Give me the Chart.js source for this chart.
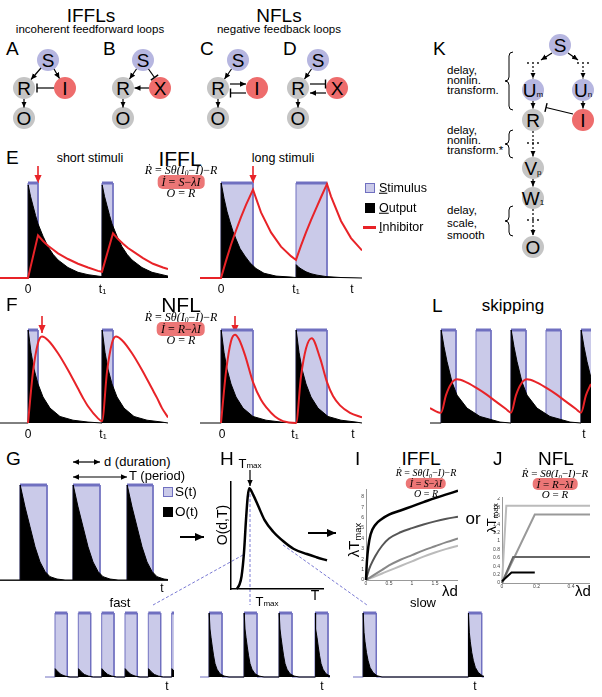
<!DOCTYPE html>
<html>
<head>
<meta charset="utf-8">
<title>IFFL / NFL responses</title>
<script src="https://cdn.jsdelivr.net/npm/chart.js"></script>
<style>
  html, body { margin: 0; padding: 0; background: #fff; }
  body { font-family: "Liberation Sans", Arial, Helvetica, sans-serif; color: #000; }
  #fig { position: relative; width: 602px; height: 697px; overflow: hidden; background: #fff; }
  #fig canvas { position: absolute; }
  #ov { position: absolute; left: 0; top: 0; }
  .t { position: absolute; white-space: nowrap; line-height: 1; }
  .sm { font-size: 0.62em; }
  sub { font-size: 0.62em; vertical-align: -0.25em; line-height: 0; }
  .eq { position: absolute; font-family: "Liberation Serif", "DejaVu Serif", serif; font-style: italic; text-align: center; white-space: nowrap; transform: translateX(-50%); }
  .eq .up { font-style: normal; }
  .pill { background: rgb(236,118,118); border-radius: 5px; padding: 0 4px; }
  .blk { position: absolute; font-size: 11.5px; white-space: nowrap; }
  .box { position: absolute; width: 10px; height: 10px; box-sizing: border-box; }
</style>
</head>
<body>
<div id="fig">
  <svg id="ov" width="602" height="697">
    <defs>
      <marker id="ah" markerUnits="userSpaceOnUse" markerWidth="6" markerHeight="6" viewBox="0 0 10 10" refX="10" refY="5" orient="auto-start-reverse"><path d="M0,0.5 L10,5 L0,9.5 z" fill="#000"/></marker>
      <marker id="ahr" markerUnits="userSpaceOnUse" markerWidth="8" markerHeight="8" viewBox="0 0 10 10" refX="10" refY="5" orient="auto"><path d="M0,0.5 L10,5 L0,9.5 z" fill="rgb(232,35,40)"/></marker>
      <marker id="ahb" markerUnits="userSpaceOnUse" markerWidth="9" markerHeight="9" viewBox="0 0 10 10" refX="10" refY="5" orient="auto"><path d="M0,0.5 L10,5 L0,9.5 z" fill="#000"/></marker>
    </defs>
  </svg>
</div>
<script>
// ---- data (time in panel units, values relative to stimulus height) ----

// E, IFFL short stimuli
const eShortStimT = [-2.8, 0, 0, 1.0, 1.0, 7.4, 7.4, 8.5, 8.5, 14];
const eShortStimS = [0, 0, 1, 1, 0, 0, 1, 1, 0, 0];
const eShortOutT = [-2.8, 0, 0.02, 0.25, 0.5, 0.75, 1, 1.5, 2, 2.5, 3, 4, 5, 6, 7, 7.4, 7.42, 7.65, 7.9, 8.15, 8.4, 8.9, 9.4, 9.9, 10.4, 11.4, 12.4, 13.4, 14];
const eShortOutO = [0, 0, 0.98, 0.86, 0.76, 0.66, 0.57, 0.44, 0.33, 0.25, 0.19, 0.11, 0.06, 0.035, 0.02, 0.015, 0.98, 0.86, 0.76, 0.66, 0.57, 0.44, 0.33, 0.25, 0.19, 0.11, 0.06, 0.035, 0.02];
const eShortInhT = [-2.8, 0, 1.0, 1.5, 2, 2.5, 3, 4, 5, 6, 7, 7.4, 8.5, 9, 9.5, 10, 10.5, 11.5, 12.5, 13.5, 14];
const eShortInhI = [0, 0, 0.45, 0.39, 0.34, 0.3, 0.26, 0.2, 0.15, 0.11, 0.075, 0.065, 0.47, 0.41, 0.36, 0.315, 0.28, 0.21, 0.15, 0.11, 0.095];
const eShortTickT = [0, 7.45];
const eShortTickL = ['0', 't₁'];

// E, IFFL long stimuli
const eLongStimT = [-2.1, 0, 0, 3.2, 3.2, 7.5, 7.5, 10.6, 10.6, 14.1];
const eLongStimS = [0, 0, 1, 1, 0, 0, 1, 1, 0, 0];
const eLongOutT = [-2.1, 0, 0.02, 0.3, 0.6, 0.9, 1.2, 1.5, 1.9, 2.4, 2.9, 3.5, 4.3, 5.5, 7, 7.5, 7.52, 7.8, 8.1, 8.5, 9, 9.6, 10.5, 12, 14.1];
const eLongOutO = [0, 0, 1.0, 0.84, 0.7, 0.59, 0.49, 0.41, 0.31, 0.23, 0.16, 0.1, 0.05, 0.02, 0.01, 0.005, 0.14, 0.11, 0.09, 0.065, 0.045, 0.03, 0.015, 0.005, 0];
const eLongInhT = [-2.1, 0, 0.5, 1, 1.5, 2, 2.5, 3.2, 4, 5, 6, 7, 7.5, 8, 8.5, 9, 9.5, 10, 10.6, 11, 12, 13, 14.1];
const eLongInhI = [0, 0, 0.18, 0.35, 0.5, 0.64, 0.77, 0.93, 0.69, 0.48, 0.33, 0.23, 0.19, 0.34, 0.48, 0.61, 0.73, 0.85, 0.99, 0.86, 0.6, 0.42, 0.29];
const eLongTickT = [0, 7.5, 13.1];
const eLongTickL = ['0', 't₁', 't'];

// F, NFL short stimuli
const fShortStimT = [-2.8, 0, 0, 1.0, 1.0, 7.4, 7.4, 8.5, 8.5, 14];
const fShortStimS = [0, 0, 1, 1, 0, 0, 1, 1, 0, 0];
const fShortOutT = [-2.8, 0, 0.02, 0.3, 0.6, 1.0, 1.5, 2.2, 3.2, 4.5, 6, 7.4, 7.42, 7.7, 8.0, 8.4, 8.9, 9.6, 10.6, 11.9, 13.4, 14];
const fShortOutO = [0, 0, 1.0, 0.76, 0.58, 0.42, 0.28, 0.16, 0.07, 0.03, 0.01, 0, 1.0, 0.76, 0.58, 0.42, 0.28, 0.16, 0.07, 0.03, 0.01, 0];
const fShortInhT = [0, 0.5, 1.0, 1.4, 2, 3, 4, 5, 5.5, 6, 7, 7.4, 7.9, 8.4, 8.8, 9.4, 10.4, 11.4, 12.4, 12.9, 13.4, 14];
const fShortInhI = [0, 0.55, 0.86, 0.93, 0.89, 0.75, 0.57, 0.37, 0.27, 0.18, 0.05, 0.02, 0.55, 0.86, 0.93, 0.89, 0.75, 0.57, 0.37, 0.27, 0.16, 0.06];
const fShortTickT = [0, 7.5];
const fShortTickL = ['0', 't₁'];

// F, NFL long stimuli
const fLongStimT = [-2.1, 0, 0, 3.2, 3.2, 7.5, 7.5, 10.6, 10.6, 14.1];
const fLongStimS = [0, 0, 1, 1, 0, 0, 1, 1, 0, 0];
const fLongOutT = [-2.1, 0, 0.02, 0.3, 0.6, 1.0, 1.5, 2.2, 3.2, 4.5, 6, 7.5, 7.52, 7.8, 8.1, 8.5, 9, 9.7, 10.7, 12, 13.5, 14.1];
const fLongOutO = [0, 0, 1.0, 0.76, 0.58, 0.42, 0.28, 0.16, 0.07, 0.03, 0.01, 0, 1.0, 0.76, 0.58, 0.42, 0.28, 0.16, 0.07, 0.03, 0.01, 0];
const fLongInhT = [0, 0.5, 1.0, 1.4, 1.8, 2.4, 3.2, 4, 4.6, 5.4, 6.2, 7.5, 8.0, 8.5, 9.07, 9.9, 10.6, 11.2, 11.9, 12.9, 14.1];
const fLongInhI = [0, 0.55, 0.88, 0.95, 0.9, 0.73, 0.44, 0.25, 0.16, 0.07, 0.02, 0, 0.5, 0.8, 0.91, 0.7, 0.44, 0.29, 0.19, 0.11, 0.06];
const fLongTickT = [0.1, 7.4, 13.2];
const fLongTickL = ['0', 't₁', 't'];

// L, skipping
const lStimT = [-1.1, 0, 0, 1.5, 1.5, 3.5, 3.5, 5.0, 5.0, 7.0, 7.0, 8.5, 8.5, 10.5, 10.5, 12.0, 12.0, 14.0, 14.0, 15.4];
const lStimS = [0, 0, 1, 1, 0, 0, 1, 1, 0, 0, 1, 1, 0, 0, 1, 1, 0, 0, 1, 1];
const lOutT = [-1.1, 0, 0.02, 0.3, 0.6, 1.1, 1.6, 2.6, 3.9, 5.9, 7.0, 7.02, 7.3, 7.6, 8.1, 8.6, 9.6, 10.9, 12.9, 14.0, 14.02, 14.3, 14.6, 15.1];
const lOutO = [0, 0, 1.0, 0.82, 0.66, 0.44, 0.3, 0.16, 0.07, 0.01, 0, 1.0, 0.82, 0.66, 0.44, 0.3, 0.16, 0.07, 0.01, 0, 1.0, 0.82, 0.66, 0.44];
const lInhT = [-1.1, 0, 0.5, 1.0, 1.6, 2.5, 3.5, 4.5, 5.5, 6.5, 7.0, 7.5, 8.0, 8.6, 9.5, 10.5, 11.5, 12.5, 13.5, 14.0, 14.5, 15.0];
const lInhI = [0.16, 0.11, 0.3, 0.42, 0.47, 0.44, 0.38, 0.31, 0.23, 0.15, 0.11, 0.3, 0.42, 0.47, 0.44, 0.38, 0.31, 0.23, 0.15, 0.11, 0.3, 0.42];
const lTickT = [14.3];
const lTickL = ['t'];

// G, periodic stimulus S(t) and output O(t)
const gStimT = [-2, 0, 0, 2.7, 2.7, 5.3, 5.3, 8.0, 8.0, 10.7, 10.7, 13.3, 13.3, 14.8];
const gStimS = [0, 0, 1, 1, 0, 0, 1, 1, 0, 0, 1, 1, 0, 0];
const gOutT = [-2, 0, 0.02, 0.5, 1.0, 1.5, 2.0, 2.5, 3.0, 3.7, 4.5, 5.3, 5.32, 5.8, 6.3, 6.8, 7.3, 7.8, 8.3, 9.0, 9.8, 10.7, 10.72, 11.2, 11.7, 12.2, 12.7, 13.2, 13.7, 14.4, 14.8];
const gOutO = [0, 0, 1, 0.77, 0.56, 0.35, 0.19, 0.09, 0.035, 0.01, 0, 0, 1, 0.77, 0.56, 0.35, 0.19, 0.09, 0.035, 0.01, 0, 0, 1, 0.77, 0.56, 0.35, 0.19, 0.09, 0.035, 0.01, 0.005];
const gTickT = [14.2];
const gTickL = ['t'];

// H, O(d,T) against period T
const hT = [0.6, 0.87, 1.1, 1.35, 1.56, 1.74, 1.9, 2.3, 2.85, 3.5, 4.4, 5.45, 6.5, 7.9, 8.9, 10];
const hO = [0, 0.04, 0.12, 0.34, 0.65, 0.87, 0.95, 0.89, 0.78, 0.65, 0.54, 0.45, 0.38, 0.33, 0.30, 0.27];

// I, IFFL: lambda*Tmax against lambda*d
const iLd = [0, 0.02, 0.05, 0.1, 0.2, 0.35, 0.5, 0.75, 1.0, 1.25, 1.5, 1.75, 2.0];
const iTmaxA = [0, 1.8, 3.2, 4.4, 5.3, 5.9, 6.3, 6.7, 7.1, 7.5, 7.9, 8.25, 8.6];
const iTmaxB = [0, 0.35, 0.8, 1.4, 2.3, 3.3, 4.0, 4.6, 5.0, 5.35, 5.65, 5.9, 6.1];
const iTmaxC = [0, 0.06, 0.14, 0.28, 0.56, 0.98, 1.4, 1.95, 2.4, 2.85, 3.25, 3.65, 4.0];
const iTmaxD = [0, 0.04, 0.09, 0.18, 0.36, 0.63, 0.9, 1.35, 1.8, 2.25, 2.65, 3.0, 3.3];

// J, NFL: lambda*Tmax against lambda*d
const jLdA = [0, 0.025, 0.51];
const jTmaxA = [0, 1.84, 1.84];
const jLdB = [0, 0.19, 0.51];
const jTmaxB = [0, 1.63, 1.63];
const jLdC = [0, 0.065, 0.51];
const jTmaxC = [0, 0.62, 0.62];
const jLdD = [0, 0.055, 0.19];
const jTmaxD = [0.04, 0.25, 0.25];

// bottom row: fast, Tmax, slow trains
const fastStimT = [-1.0, 0, 0, 1.23, 1.23, 2.33, 2.33, 3.57, 3.57, 4.67, 4.67, 5.9, 5.9, 7.0, 7.0, 8.23, 8.23, 9.33, 9.33, 10.57, 10.57, 11.67, 11.67, 12.5];
const fastStimS = [0, 0, 1, 1, 0, 0, 1, 1, 0, 0, 1, 1, 0, 0, 1, 1, 0, 0, 1, 1, 0, 0, 1, 1];
const fastOutT = [0, 0.02, 0.3, 0.6, 1.0, 1.5, 2.33, 2.35, 2.63, 2.93, 3.33, 3.83, 4.67, 4.69, 4.97, 5.27, 5.67, 6.17, 7.0, 7.02, 7.3, 7.6, 8.0, 8.5, 9.33, 9.35, 9.63, 9.93, 10.33, 10.83, 11.67, 11.69, 11.97];
const fastOutO = [0, 0.13, 0.08, 0.04, 0.015, 0, 0, 0.13, 0.08, 0.04, 0.015, 0, 0, 0.13, 0.08, 0.04, 0.015, 0, 0, 0.13, 0.08, 0.04, 0.015, 0, 0, 0.13, 0.08, 0.04, 0.015, 0, 0, 0.13, 0.08];
const fastTickT = [11.2];

const tmaxStimT = [-0.9, 0, 0, 1.3, 1.3, 3.5, 3.5, 4.8, 4.8, 7.0, 7.0, 8.3, 8.3, 10.6, 10.6, 11.9, 11.9, 12.1];
const tmaxStimS = [0, 0, 1, 1, 0, 0, 1, 1, 0, 0, 1, 1, 0, 0, 1, 1, 0, 0];
const tmaxOutT = [0, 0.02, 0.1, 0.2, 0.33, 0.45, 0.6, 0.8, 1.1, 1.5, 2.0,
                  3.5, 3.52, 3.6, 3.7, 3.83, 3.95, 4.1, 4.3, 4.6, 5.0, 5.5,
                  7.0, 7.02, 7.1, 7.2, 7.33, 7.45, 7.6, 7.8, 8.1, 8.5, 9.0,
                  10.6, 10.62, 10.7, 10.8, 10.93, 11.05, 11.2, 11.4, 11.7, 12.1];
const tmaxOutO = [0, 1, 0.75, 0.62, 0.47, 0.34, 0.21, 0.12, 0.05, 0.015, 0,
                  0, 1, 0.75, 0.62, 0.47, 0.34, 0.21, 0.12, 0.05, 0.015, 0,
                  0, 1, 0.75, 0.62, 0.47, 0.34, 0.21, 0.12, 0.05, 0.015, 0,
                  0, 1, 0.75, 0.62, 0.47, 0.34, 0.21, 0.12, 0.05, 0.015];
const tmaxTickT = [11.3];

const slowStimT = [-1.0, 0, 0, 1.33, 1.33, 10.53, 10.53, 11.87, 11.87, 12.1];
const slowStimS = [0, 0, 1, 1, 0, 0, 1, 1, 0, 0];
const slowOutT = [0, 0.02, 0.1, 0.2, 0.35, 0.5, 0.7, 1.0, 1.4, 1.9, 10.53, 10.55, 10.63, 10.73, 10.88, 11.03, 11.23, 11.53, 11.93, 12.1];
const slowOutO = [0, 1, 0.7, 0.55, 0.38, 0.26, 0.15, 0.07, 0.02, 0, 0, 1, 0.7, 0.55, 0.38, 0.26, 0.15, 0.07, 0.02, 0.01];
const slowTickT = [11.2];

// ---- styles ----
const STIM_FILL = 'rgb(202,202,233)';
const STIM_EDGE = 'rgb(112,112,192)';
const RED = 'rgb(232,35,40)';
const NODE_S = 'rgb(182,182,224)';
const NODE_G = 'rgb(197,197,197)';
const NODE_R = 'rgb(238,108,108)';
const DASH = 'rgb(122,122,212)';

Chart.defaults.font.family = '"Liberation Sans", Arial, sans-serif';
Chart.defaults.color = '#000';

const fig = document.getElementById('fig');
const ov = document.getElementById('ov');

function pts(xs, ys) { return xs.map((x, i) => ({ x: x, y: ys[i] })); }

function stimSet(ts, ss, showBase) {
    return {
        data: pts(ts, ss), order: 3, fill: 'origin',
        backgroundColor: STIM_FILL, borderColor: STIM_EDGE, borderWidth: 1,
        pointRadius: 0, tension: 0,
        segment: {
            borderWidth: ctx => (ctx.p0.parsed.y > 0.5 && ctx.p1.parsed.y > 0.5) ? 3 : 1,
            borderColor: ctx => (!showBase && ctx.p0.parsed.y < 0.5 && ctx.p1.parsed.y < 0.5) ? 'rgba(0,0,0,0)' : STIM_EDGE
        }
    };
}
function outSet(ts, os) {
    return { data: pts(ts, os), order: 2, fill: 'origin', backgroundColor: '#000', borderColor: '#000', borderWidth: 1, pointRadius: 0, tension: 0 };
}
function inhSet(ts, is, smooth) {
    const d = { data: pts(ts, is), order: 1, fill: false, borderColor: RED, borderWidth: 2, pointRadius: 0, tension: 0 };
    if (smooth) d.cubicInterpolationMode = 'monotone';
    return d;
}

function addCanvas(x, y, w, h) {
    const c = document.createElement('canvas');
    c.width = w; c.height = h;
    c.style.left = x + 'px'; c.style.top = y + 'px';
    fig.appendChild(c);
    return c;
}

const baseOpts = () => ({
    responsive: false, animation: false, devicePixelRatio: 1, events: [],
    layout: { padding: 0 },
    plugins: { legend: { display: false }, tooltip: { enabled: false } }
});

// one / zero = pixel rows where the value 1 and 0 sit; cTop..cBot = plot area rows
function timeChart(left, width, xmin, xmax, one, zero, cTop, cBot, tickT, tickL, datasets, border) {
    const u = zero - one;
    const axisH = tickT.length ? 17 : 0;
    const c = addCanvas(left, cTop, width, cBot - cTop + axisH);
    const opts = baseOpts();
    opts.scales = {
        x: {
            type: 'linear', min: xmin, max: xmax, display: tickT.length > 0,
            grid: { display: false, drawTicks: false },
            border: { display: !!border, color: '#222', width: 1 },
            ticks: { autoSkip: false, maxRotation: 0, padding: 1, font: { size: 12 }, color: '#000', callback: (v, i) => tickL[i] },
            afterBuildTicks: ax => { ax.ticks = tickT.map(v => ({ value: v })); },
            afterFit: ax => { ax.height = axisH; ax.paddingLeft = 0; ax.paddingRight = 0; }
        },
        y: { type: 'linear', min: (zero - cBot) / u, max: (zero - cTop) / u, display: false }
    };
    return new Chart(c, { type: 'line', data: { datasets: datasets }, options: opts });
}

// E
timeChart(0, 168, -2.8, 14.0, 183, 278, 179, 281, eShortTickT, eShortTickL, [
    inhSet(eShortInhT, eShortInhI), outSet(eShortOutT, eShortOutO), stimSet(eShortStimT, eShortStimS)]);
timeChart(200, 162, -2.1, 14.1, 183, 278, 179, 281, eLongTickT, eLongTickL, [
    inhSet(eLongInhT, eLongInhI), outSet(eLongOutT, eLongOutO), stimSet(eLongStimT, eLongStimS)]);
// F
timeChart(0, 168, -2.8, 14.0, 330, 423, 326, 426, fShortTickT, fShortTickL, [
    inhSet(fShortInhT, fShortInhI, true), outSet(fShortOutT, fShortOutO), stimSet(fShortStimT, fShortStimS)]);
timeChart(200, 162, -2.1, 14.1, 330, 423, 326, 426, fLongTickT, fLongTickL, [
    inhSet(fLongInhT, fLongInhI, true), outSet(fLongOutT, fLongOutO), stimSet(fLongStimT, fLongStimS)]);
// L
timeChart(430, 161, -1.1, 15.0, 330, 423, 326, 426, lTickT, lTickL, [
    inhSet(lInhT, lInhI, true), outSet(lOutT, lOutO), stimSet(lStimT, lStimS)]);
// G
timeChart(0, 168, -2.0, 14.8, 485, 580, 481, 580, gTickT, gTickL, [
    outSet(gOutT, gOutO), stimSet(gStimT, gStimS)], true);
// bottom row
timeChart(45, 129, -1.0, 11.9, 613, 677, 610, 678, fastTickT, ['t'], [
    outSet(fastOutT, fastOutO), stimSet(fastStimT, fastStimS, true)]);
timeChart(200, 130, -0.9, 12.1, 613, 677, 610, 678, tmaxTickT, ['t'], [
    outSet(tmaxOutT, tmaxOutO), stimSet(tmaxStimT, tmaxStimS, true)]);
timeChart(353, 131, -1.0, 12.1, 613, 677, 610, 678, slowTickT, ['t'], [
    outSet(slowOutT, slowOutO), stimSet(slowStimT, slowStimS, true)]);

// H
(function() {
    const c = addCanvas(229, 481, 100, 110);
    const opts = baseOpts();
    opts.layout = { padding: { right: 6 } };
    const ax = (min, max, horiz) => ({
        type: 'linear', min: min, max: max,
        grid: { display: false, drawTicks: false },
        border: { display: true, color: '#000', width: 1.5 },
        ticks: { display: false },
        afterFit: a => { if (horiz) a.height = 2; else a.width = 2; a.paddingLeft = a.paddingRight = a.paddingTop = a.paddingBottom = 0; }
    });
    opts.scales = { x: ax(0, 9.58, true), y: ax(0, 1.019, false) };
    new Chart(c, { type: 'line', data: { datasets: [{
        data: pts(hT, hO), borderColor: '#000', borderWidth: 2.5, pointRadius: 0,
        cubicInterpolationMode: 'monotone', fill: false, clip: false }] }, options: opts });
})();

function dimAxis(min, max, step, horiz, size, keep) {
    return {
        type: 'linear', min: min, max: max,
        grid: { display: false, drawTicks: false },
        border: { display: true, color: '#999', width: 1 },
        ticks: { stepSize: step, includeBounds: false, autoSkip: false, maxRotation: 0, padding: horiz ? 1 : 2,
                 font: { size: 5 }, color: '#444', callback: v => String(+v.toFixed(2)) },
        afterBuildTicks: a => { a.ticks = a.ticks.filter(t => t.value <= keep + 1e-9); },
        afterFit: a => { if (horiz) a.height = size; else a.width = size; a.paddingLeft = a.paddingRight = a.paddingTop = a.paddingBottom = 0; }
    };
}
function curve(xs, ys, color, w) {
    return { data: pts(xs, ys), borderColor: color, borderWidth: w, pointRadius: 0, fill: false, cubicInterpolationMode: 'monotone', clip: false };
}

// I
(function() {
    const c = addCanvas(357, 489, 101, 100);
    const opts = baseOpts();
    opts.scales = { x: dimAxis(0, 2.0, 0.5, true, 9, 1.5), y: dimAxis(0, 8.77, 1, false, 9, 8) };
    new Chart(c, { type: 'line', data: { datasets: [
        curve(iLd, iTmaxA, '#000', 2.5),
        curve(iLd, iTmaxB, '#555', 2),
        curve(iLd, iTmaxC, '#888', 2),
        curve(iLd, iTmaxD, '#bbb', 2)] }, options: opts });
})();

// J
(function() {
    const c = addCanvas(493, 497, 97, 95);
    const opts = baseOpts();
    opts.scales = { x: dimAxis(0, 0.51, 0.2, true, 9, 0.4), y: dimAxis(0, 2.048, 0.2, false, 9, 2) };
    const ds = [
        curve(jLdD, jTmaxD, '#000', 2),
        curve(jLdC, jTmaxC, '#666', 2),
        curve(jLdB, jTmaxB, '#999', 2),
        curve(jLdA, jTmaxA, '#bbb', 2)];
    ds.forEach(d => { d.tension = 0; delete d.cubicInterpolationMode; });
    new Chart(c, { type: 'line', data: { datasets: ds }, options: opts });
})();

// ---- text ----
function txt(html, x, y, size, align, extra) {
    const d = document.createElement('div');
    d.className = 't';
    d.innerHTML = html;
    d.style.left = x + 'px'; d.style.top = y + 'px'; d.style.fontSize = size + 'px';
    const tx = align === 'c' ? '-50%' : '0';
    d.style.transform = 'translate(' + tx + ', -50%)' + (extra || '');
    fig.appendChild(d);
    return d;
}
function eq(x, top, size, lh, second) {
    const d = document.createElement('div');
    d.className = 'eq';
    d.style.left = x + 'px'; d.style.top = top + 'px';
    d.style.fontSize = size + 'px'; d.style.lineHeight = lh + 'px';
    d.innerHTML = 'Ṙ <span class="up">=</span> Sθ(I<sub>0</sub><span class="up">−</span>I)<span class="up">−</span>R<br>' +
        '<span class="pill">İ <span class="up">=</span> ' + second + '<span class="up">−</span>λI</span><br>' +
        'O <span class="up">=</span> R';
    fig.appendChild(d);
}
function box(x, y, bg, border) {
    const d = document.createElement('div');
    d.className = 'box';
    d.style.left = x + 'px'; d.style.top = y + 'px';
    d.style.background = bg;
    if (border) d.style.border = '1px solid ' + border;
    fig.appendChild(d);
}
function block(html, x, y, lh) {
    const d = document.createElement('div');
    d.className = 'blk';
    d.style.left = x + 'px'; d.style.top = y + 'px'; d.style.lineHeight = lh + 'px';
    d.innerHTML = html;
    fig.appendChild(d);
}

txt('IFFLs', 91, 15, 19, 'c');
txt('incoherent feedforward loops', 90, 30, 11.5, 'c');
txt('NFLs', 279, 15, 19, 'c');
txt('negative feedback loops', 279, 30, 11.5, 'c');
txt('A', 6, 48, 19); txt('B', 103, 48, 19); txt('C', 200, 48, 19); txt('D', 283, 48, 19);

txt('E', 6, 157, 19);
txt('short stimuli', 90, 158, 12.5, 'c');
txt('IFFL', 180, 158, 21, 'c');
txt('long stimuli', 283, 158, 12.5, 'c');
eq(181, 165, 12, 11.5, 'S');

box(365, 183, STIM_FILL, STIM_EDGE);
box(365, 203, '#000');
const redKey = document.createElement('div');
redKey.style.cssText = 'position:absolute;left:363px;top:226px;width:13px;height:2.5px;background:' + RED;
fig.appendChild(redKey);
txt('<u>S</u>timulus', 379, 188, 12.5);
txt('<u>O</u>utput', 379, 208, 12.5);
txt('<u>I</u>nhibitor', 379, 227, 12.5);

txt('F', 6, 304, 19);
txt('NFL', 181, 304, 21, 'c');
eq(181, 312, 12, 11.5, 'R');

txt('L', 432, 305, 19);
txt('skipping', 513, 305, 17, 'c');

txt('G', 6, 458, 19);
txt('d (duration)', 104, 461, 13);
txt('T (period)', 129, 475, 13);
box(163, 487, STIM_FILL, STIM_EDGE);
box(163, 507, '#000');
txt('S(t)', 175, 492, 13.5);
txt('O(t)', 175, 512, 13.5);

txt('H', 220, 458, 19);
txt('T<span class="sm">max</span>', 250, 464, 13, 'c');
txt('O(d,T)', 222, 525, 14, 'c', ' rotate(-90deg)');
txt('T', 315, 595, 14, 'c');

txt('I', 355, 458, 19);
txt('IFFL', 421, 458, 19, 'c');
eq(426, 468, 10, 10.5, 'S');
txt('λT<sub>max</sub>', 353, 540, 15, 'c', ' rotate(-90deg)');
txt('λd', 450, 590, 15, 'c');
txt('or', 473, 518, 17, 'c');

txt('J', 493, 458, 19);
txt('NFL', 556, 458, 19, 'c');
eq(555, 468, 11, 10.5, 'R');
txt('λT<sub>max</sub>', 491, 518, 13, 'c', ' rotate(-90deg)');
txt('λd', 583, 590, 15, 'c');

txt('K', 433, 48, 19);
block('delay,<br>nonlin.<br>transform.', 447, 65, 10);
block('delay,<br>nonlin.<br>transform.*', 447, 125, 10);
block('delay,<br>scale,<br>smooth', 447, 204, 12.5);

txt('fast', 120, 602, 13, 'c');
txt('T<span class="sm">max</span>', 267, 602, 13, 'c');
txt('slow', 423, 602, 13, 'c');

// ---- diagrams and connectors ----
const NS = 'http://www.w3.org/2000/svg';
function el(tag, attrs, text) {
    const e = document.createElementNS(NS, tag);
    for (const k in attrs) e.setAttribute(k, attrs[k]);
    if (text !== undefined) e.textContent = text;
    ov.appendChild(e);
    return e;
}
function node(x, y, fill, label, sub) {
    el('circle', { cx: x, cy: y, r: 11, fill: fill });
    const t = el('text', { x: x, y: y + 6.8, 'text-anchor': 'middle', 'font-size': 19, 'font-family': 'Liberation Sans, Arial, sans-serif' }, label);
    if (sub) {
        const s = document.createElementNS(NS, 'tspan');
        s.setAttribute('font-size', 8);
        s.textContent = sub;
        t.appendChild(s);
    }
}
function arrow(x1, y1, x2, y2, dashed, both) {
    const a = { x1: x1, y1: y1, x2: x2, y2: y2, stroke: '#000', 'stroke-width': 1.2, 'marker-end': 'url(#ah)' };
    if (dashed) a['stroke-dasharray'] = '2,2';
    if (both) a['marker-start'] = 'url(#ah)';
    el('line', a);
}
function inhib(x1, y1, x2, y2) {
    el('line', { x1: x1, y1: y1, x2: x2, y2: y2, stroke: '#000', 'stroke-width': 1.2 });
    const dx = x2 - x1, dy = y2 - y1, l = Math.hypot(dx, dy);
    const px = -dy / l * 4.5, py = dx / l * 4.5;
    el('line', { x1: x2 + px, y1: y2 + py, x2: x2 - px, y2: y2 - py, stroke: '#000', 'stroke-width': 1.4 });
}
function dots(x, y) {
    [-5, 0, 5].forEach(d => el('circle', { cx: x + d, cy: y, r: 0.9, fill: '#000' }));
}
function brace(x, y1, y2) {
    const m = (y1 + y2) / 2;
    el('path', { d: 'M' + (x + 4) + ',' + y1 + ' Q' + x + ',' + y1 + ' ' + x + ',' + (y1 + 4) + ' L' + x + ',' + (m - 4) +
        ' Q' + x + ',' + m + ' ' + (x - 4) + ',' + m + ' Q' + x + ',' + m + ' ' + x + ',' + (m + 4) +
        ' L' + x + ',' + (y2 - 4) + ' Q' + x + ',' + y2 + ' ' + (x + 4) + ',' + y2,
        fill: 'none', stroke: '#000', 'stroke-width': 1 });
}

// A
node(48, 60, NODE_S, 'S'); node(24, 88, NODE_G, 'R'); node(65, 88, NODE_R, 'I'); node(24, 118, NODE_G, 'O');
arrow(41, 68, 31, 79.5); arrow(54, 69, 59.5, 78.5); inhib(54, 88, 37, 88); arrow(24, 99, 24, 107.5);
// B
node(143, 60, NODE_S, 'S'); node(123, 88, NODE_G, 'R'); node(160, 88, NODE_R, 'X'); node(123, 118, NODE_G, 'O');
arrow(136.5, 69, 129.5, 79); inhib(148.5, 69, 154.5, 77.5); arrow(149, 88, 134.5, 88); arrow(123, 99, 123, 107.5);
// C
node(238, 60, NODE_S, 'S'); node(218, 88, NODE_G, 'R'); node(257, 88, NODE_R, 'I'); node(218, 118, NODE_G, 'O');
arrow(231.5, 69, 224.5, 79); arrow(230, 84, 246, 84); inhib(246, 93, 230.5, 93); arrow(218, 99, 218, 107.5);
// D
node(318, 60, NODE_S, 'S'); node(298, 88, NODE_G, 'R'); node(337, 88, NODE_R, 'X'); node(298, 118, NODE_G, 'O');
arrow(311.5, 69, 304.5, 79); inhib(310, 84, 325.5, 84); arrow(326, 93, 310, 93); arrow(298, 99, 298, 107.5);

// K
node(560, 45, NODE_S, 'S');
node(533, 90, NODE_S, 'U', 'm'); node(583, 90, NODE_S, 'U', 'n');
node(533, 120, NODE_G, 'R'); node(583, 120, NODE_R, 'I');
node(533, 168, NODE_G, 'V', 'p'); node(533, 198, NODE_G, 'W', '1'); node(533, 247, NODE_G, 'O');
arrow(552, 53, 541, 60); arrow(568, 53, 578, 60);
dots(533, 63); dots(583, 63);
arrow(533, 66, 533, 78.5, true); arrow(583, 66, 583, 78.5, true);
arrow(533, 101, 533, 108.5); arrow(583, 101, 583, 108.5);
inhib(573, 114, 546, 107.5);
dots(533, 143); arrow(533, 131, 533, 156.5, true);
arrow(533, 179, 533, 186.5);
dots(533, 220); arrow(533, 209, 533, 235.5, true);
brace(509, 52, 110); brace(509, 130, 158); brace(509, 206, 236);

// red markers over E and F
[[38, 166], [253, 166]].forEach(p => el('line', { x1: p[0], y1: p[1], x2: p[0], y2: p[1] + 17, stroke: RED, 'stroke-width': 1.6, 'marker-end': 'url(#ahr)' }));
[[42, 316], [235, 316]].forEach(p => el('line', { x1: p[0], y1: p[1], x2: p[0], y2: p[1] + 17, stroke: RED, 'stroke-width': 1.6, 'marker-end': 'url(#ahr)' }));

// G annotations
arrow(73, 462, 100, 462, false, true);
arrow(73, 477, 127, 477, false, true);

// big flow arrows and Tmax marker
el('line', { x1: 180, y1: 537, x2: 204, y2: 537, stroke: '#000', 'stroke-width': 2, 'marker-end': 'url(#ahb)' });
el('line', { x1: 308, y1: 533, x2: 336, y2: 533, stroke: '#000', 'stroke-width': 2, 'marker-end': 'url(#ahb)' });
arrow(250, 470, 250, 486);

// dashed links from H to the bottom trains
el('line', { x1: 243, y1: 555, x2: 153, y2: 605, stroke: DASH, 'stroke-width': 1, 'stroke-dasharray': '3,2' });
el('line', { x1: 250, y1: 489, x2: 250, y2: 605, stroke: DASH, 'stroke-width': 1, 'stroke-dasharray': '3,2' });
el('line', { x1: 283, y1: 545, x2: 367, y2: 605, stroke: DASH, 'stroke-width': 1, 'stroke-dasharray': '3,2' });
</script>
</body>
</html>
